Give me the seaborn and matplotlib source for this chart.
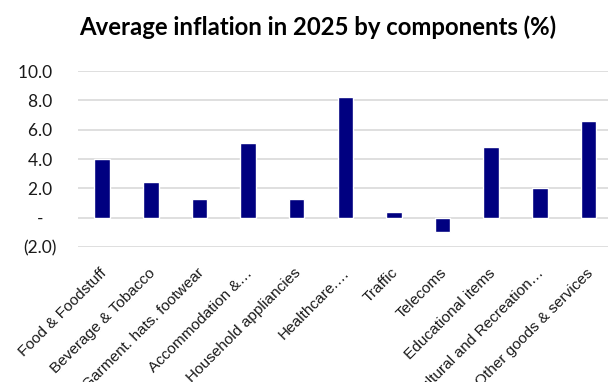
import seaborn as sns
import matplotlib.pyplot as plt
import matplotlib.transforms as mtransforms
import pandas as pd

# chart data
categories = ["Food & Foodstuff", "Beverage & Tobacco", "Garment. hats. footwear",
              "Accommodation &\u2026", "Household appliancies", "Healthcare.\u2026",
              "Traffic", "Telecoms", "Educational items",
              "Cultural and Recreation\u2026", "Other goods & services"]
inflation = [4.0, 2.4, 1.3, 5.1, 1.3, 8.2, 0.4, -1.0, 4.8, 2.0, 6.6]
y_ticks = [-2, 0, 2, 4, 6, 8, 10]
y_labels = ["(2.0)", "-   ", "2.0 ", "4.0 ", "6.0 ", "8.0 ", "10.0 "]

sns.set_theme(style="whitegrid")
plt.rcParams["font.family"] = ["Lato", "DejaVu Sans"]

df = pd.DataFrame({"component": categories, "value": inflation})

fig = plt.figure(figsize=(6.08, 3.82), dpi=100)
ax = fig.add_axes([0.128, 0.3534, 0.880, 0.4607])

sns.barplot(data=df, x="component", y="value", color="#000080",
            saturation=1, width=0.32, ax=ax)

ax.set_xlim(-0.5, 10.5)
ax.set_ylim(-2, 10)
ax.set_yticks(y_ticks)
ax.set_yticklabels(y_labels, fontsize=12.5, color="#1a1a1a")
ax.set_xlabel("")
ax.set_ylabel("")

ax.grid(axis="y", color="#d9d9d9", linewidth=1.2)
ax.grid(axis="x", visible=False)
ax.set_axisbelow(True)
for s in ax.spines.values():
    s.set_visible(False)
ax.tick_params(axis="both", length=0)
ax.tick_params(axis="y", pad=15)
ax.tick_params(axis="x", pad=13.5)

# nudge rotated labels slightly left
shift = mtransforms.ScaledTranslation(-3 / 100, 0, fig.dpi_scale_trans)
for lab in ax.get_xticklabels():
    lab.set_rotation(45)
    lab.set_ha("right")
    lab.set_rotation_mode("anchor")
    lab.set_fontsize(11.1)
    lab.set_family(["Liberation Sans", "DejaVu Sans"])
    lab.set_color("#1a1a1a")
    lab.set_transform(lab.get_transform() + shift)

fig.text(0.522, 0.93, "Average inflation in 2025 by components (%)",
         ha="center", va="center", fontsize=17.2, fontweight="bold",
         color="black")

fig.savefig("out.png", dpi=100)
